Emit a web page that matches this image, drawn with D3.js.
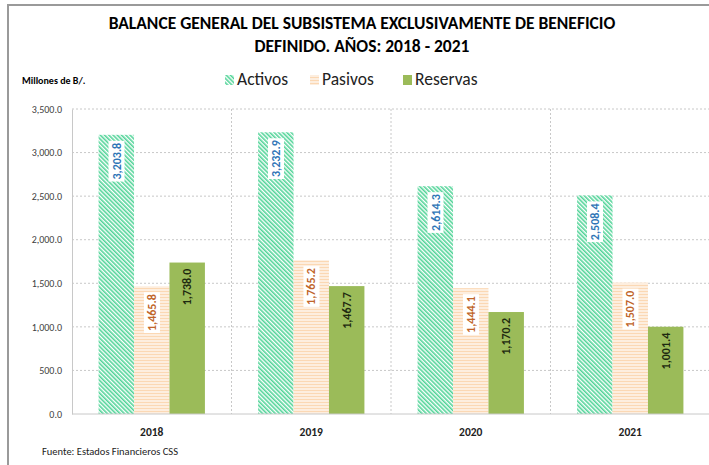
<!DOCTYPE html>
<html>
<head>
<meta charset="utf-8">
<script src="https://cdn.jsdelivr.net/npm/d3@7"></script>
<style>
  body { margin: 0; background: #fff; }
  svg text { font-family: Carlito, Lato, "Open Sans", sans-serif; }
</style>
</head>
<body>
<div id="chart"></div>
<script>
// chart data
const years = ["2018", "2019", "2020", "2021"];
const seriesNames = ["Activos", "Pasivos", "Reservas"];
const activos = [3203.8, 3232.9, 2614.3, 2508.4];
const pasivos = [1465.8, 1765.2, 1444.1, 1507.0];
const reservas = [1738.0, 1467.7, 1170.2, 1001.4];
const yTicks = [0, 500, 1000, 1500, 2000, 2500, 3000, 3500];

const W = 709, H = 465;
const margin = {top: 109, right: -1, bottom: 51, left: 72};
const width = W - margin.left - margin.right;
const height = H - margin.top - margin.bottom;

const svg = d3.select("#chart").append("svg")
    .attr("width", W)
    .attr("height", H);

// patterns
const defs = svg.append("defs");
let pA = defs.append("pattern")
    .attr("id", "patActivos")
    .attr("patternUnits", "userSpaceOnUse")
    .attr("width", 3).attr("height", 3)
    .attr("patternTransform", "rotate(-45)");
pA.append("rect").attr("width", 3).attr("height", 3).attr("fill", "#ffffff");
pA.append("rect").attr("width", 1.6).attr("height", 3).attr("fill", "#52d498");

let pP = defs.append("pattern")
    .attr("id", "patPasivos")
    .attr("patternUnits", "userSpaceOnUse")
    .attr("width", 4).attr("height", 3);
pP.append("rect").attr("width", 4).attr("height", 3).attr("fill", "#fdeedf");
pP.append("rect").attr("y", 2).attr("width", 4).attr("height", 1).attr("fill", "#fbd8b4");

const fills = {"Activos": "url(#patActivos)", "Pasivos": "url(#patPasivos)", "Reservas": "#9bbb59"};
const labelColors = {"Activos": "#2e75b6", "Pasivos": "#c0652a", "Reservas": "#1e2a10"};

// outer frame
svg.append("path")
    .attr("d", "M8," + H + " V5 H" + W)
    .attr("fill", "none")
    .attr("stroke", "#9a9a9a")
    .attr("stroke-width", 2);

// title
const title = svg.append("text")
    .attr("text-anchor", "middle")
    .attr("font-weight", "bold")
    .attr("font-size", 17.5)
    .attr("fill", "#000");
title.append("tspan").attr("x", 362).attr("y", 29).text("BALANCE GENERAL DEL SUBSISTEMA EXCLUSIVAMENTE DE BENEFICIO");
title.append("tspan").attr("x", 362).attr("y", 52).text("DEFINIDO. AÑOS: 2018 - 2021");

svg.append("text")
    .attr("x", 22).attr("y", 84)
    .attr("font-size", 10).attr("font-weight", "bold")
    .text("Millones de B/.");

// legend
const legendX = [225, 310, 403];
const legend = svg.selectAll(".legend")
    .data(seriesNames)
    .enter().append("g")
    .attr("class", "legend")
    .attr("transform", (d, i) => "translate(" + legendX[i] + ",75)");
legend.append("rect")
    .attr("width", 9).attr("height", 10)
    .attr("fill", d => fills[d]);
legend.append("text")
    .attr("x", 12).attr("y", 10)
    .attr("font-size", 17.5)
    .attr("fill", "#222")
    .text(d => d);

const g = svg.append("g")
    .attr("transform", "translate(" + margin.left + "," + margin.top + ")");

const x0 = d3.scaleBand()
    .domain(years)
    .range([0, width]);

const x1 = d3.scaleBand()
    .domain(seriesNames)
    .range([0, x0.bandwidth() * 3 / 4.5]);
const groupOffset = (x0.bandwidth() - x1.range()[1]) / 2;

const y = d3.scaleLinear()
    .domain([0, 3500])
    .range([height, 0]);

// gridlines
g.selectAll(".hgrid")
    .data(yTicks.filter(d => d > 0))
    .enter().append("line")
    .attr("x1", 0).attr("x2", width)
    .attr("y1", d => y(d)).attr("y2", d => y(d))
    .attr("stroke", "#c8c8c8")
    .attr("stroke-dasharray", "2,2");

g.selectAll(".vgrid")
    .data(years.slice(1))
    .enter().append("line")
    .attr("x1", d => x0(d)).attr("x2", d => x0(d))
    .attr("y1", 0).attr("y2", height)
    .attr("stroke", "#c8c8c8")
    .attr("stroke-dasharray", "2,2");

// y axis
const yAxis = d3.axisLeft(y)
    .tickValues(yTicks)
    .tickFormat(d3.format(",.1f"))
    .tickSize(0)
    .tickPadding(10);
const yAxisGroup = g.append("g").call(yAxis);
yAxisGroup.select(".domain").attr("stroke", "#c8c8c8");
yAxisGroup.selectAll("text")
    .attr("font-size", 10)
    .attr("fill", "#404040")
    .style("font-family", "Carlito, Lato, 'Open Sans', sans-serif");

// bars
const rows = years.map((yr, i) => ({
    year: yr,
    values: [
        {key: "Activos", value: activos[i]},
        {key: "Pasivos", value: pasivos[i]},
        {key: "Reservas", value: reservas[i]}
    ]
}));

const groups = g.selectAll(".year")
    .data(rows)
    .enter().append("g")
    .attr("class", "year")
    .attr("transform", d => "translate(" + (x0(d.year) + groupOffset) + ",0)");

groups.selectAll("rect")
    .data(d => d.values)
    .enter().append("rect")
    .attr("x", d => x1(d.key))
    .attr("width", x1.bandwidth())
    .attr("y", d => y(d.value))
    .attr("height", d => height - y(d.value))
    .attr("fill", d => fills[d.key]);

// value labels
const fmt = d3.format(",.1f");
const labels = groups.selectAll(".lbl")
    .data(d => d.values)
    .enter().append("g")
    .attr("class", "lbl")
    .attr("transform", d => "translate(" + (x1(d.key) + x1.bandwidth() / 2) + "," + (y(d.value) + 6) + ") rotate(-90)");

labels.append("text")
    .attr("text-anchor", "end")
    .attr("x", d => d.key === "Reservas" ? 0 : -2)
    .attr("dy", "0.35em")
    .attr("font-size", 12)
    .attr("font-weight", "bold")
    .attr("fill", d => labelColors[d.key])
    .text(d => fmt(d.value));

labels.each(function(d) {
    if (d.key === "Reservas") return;
    const t = d3.select(this).select("text");
    const bb = t.node().getBBox();
    d3.select(this).insert("rect", "text")
        .attr("x", bb.x - 2).attr("y", bb.y - 1)
        .attr("width", bb.width + 4).attr("height", bb.height + 2)
        .attr("fill", "#fff");
});

// baseline and x axis
g.append("line")
    .attr("x1", 0).attr("x2", width)
    .attr("y1", height).attr("y2", height)
    .attr("stroke", "#c8c8c8");

g.selectAll(".xlabel")
    .data(years)
    .enter().append("text")
    .attr("x", d => x0(d) + x0.bandwidth() / 2)
    .attr("y", height + 22)
    .attr("text-anchor", "middle")
    .attr("font-size", 11.5)
    .attr("font-weight", "bold")
    .attr("fill", "#222")
    .text(d => d);

svg.append("text")
    .attr("x", 42).attr("y", 455)
    .attr("font-size", 10.5)
    .attr("fill", "#222")
    .text("Fuente:  Estados Financieros CSS");
</script>
</body>
</html>
